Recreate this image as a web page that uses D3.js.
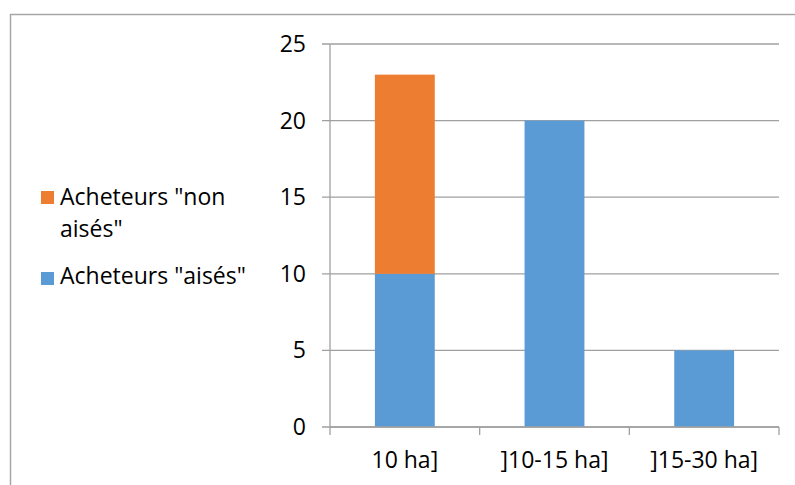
<!DOCTYPE html>
<html>
<head>
<meta charset="utf-8">
<script src="https://cdn.jsdelivr.net/npm/d3@7"></script>
<style>
  html, body { margin: 0; padding: 0; background: #fff; }
  svg { display: block; }
  text { font-family: "Open Sans", Lato, sans-serif; fill: #000; }
</style>
</head>
<body>
<svg id="chart" width="795" height="485"></svg>
<script>
const categories = ["10 ha]", "]10-15 ha]", "]15-30 ha]"];
const seriesNames = ['Acheteurs "aisés"', 'Acheteurs "non aisés"'];
const aises = [10, 20, 5];
const nonAises = [13, 0, 0];
const yTicks = [0, 5, 10, 15, 20, 25];
const colors = ["#5B9BD5", "#ED7D31"];

(function () {
const svg = d3.select("#chart");
const W = 795, H = 485;
const FS = 23;

// outer chart border
svg.append("rect")
  .attr("x", 10.5).attr("y", 14.5)
  .attr("width", W).attr("height", H)
  .attr("fill", "#fff").attr("stroke", "#a6a6a6").attr("stroke-width", 1.5);

const pLeft = 330, pRight = 779, pTop = 44, pBottom = 427;

const x = d3.scaleBand().domain(categories).range([pLeft, pRight])
  .paddingInner(0.6).paddingOuter(0.3);
const y = d3.scaleLinear().domain([0, 25]).range([pBottom, pTop]);

// gridlines
svg.append("g").selectAll("line").data(yTicks).join("line")
  .attr("x1", pLeft - 8).attr("x2", pRight)
  .attr("y1", d => y(d)).attr("y2", d => y(d))
  .attr("stroke", "#a0a0a0").attr("stroke-width", 1.3);

// y axis line
svg.append("line")
  .attr("x1", pLeft).attr("x2", pLeft).attr("y1", pTop).attr("y2", pBottom)
  .attr("stroke", "#a0a0a0").attr("stroke-width", 1.3);

// y tick labels
svg.append("g").selectAll("text").data(yTicks).join("text")
  .attr("x", 306).attr("y", d => y(d))
  .attr("dy", "0.35em")
  .attr("text-anchor", "end")
  .attr("font-size", FS)
  .text(d => d);

// stacked data
const table = categories.map((c, i) => ({ cat: c, a: aises[i], n: nonAises[i] }));
const stack = d3.stack().keys(["a", "n"]);
const layers = stack(table);

svg.append("g").selectAll("g").data(layers).join("g")
  .attr("fill", (d, i) => colors[i])
  .selectAll("rect").data(d => d.filter(s => s[1] - s[0] > 0)).join("rect")
  .attr("x", d => x(d.data.cat))
  .attr("width", x.bandwidth())
  .attr("y", d => y(d[1]))
  .attr("height", d => y(d[0]) - y(d[1]));

// x axis baseline drawn over bars
svg.append("line")
  .attr("x1", pLeft).attr("x2", pRight).attr("y1", pBottom).attr("y2", pBottom)
  .attr("stroke", "#a0a0a0").attr("stroke-width", 1.3);

// x ticks at band boundaries
const bounds = categories.map(c => x(c) - x.step() * x.paddingOuter()).concat([pRight]);
svg.append("g").selectAll("line").data(bounds).join("line")
  .attr("x1", d => d).attr("x2", d => d)
  .attr("y1", pBottom).attr("y2", pBottom + 8)
  .attr("stroke", "#a0a0a0").attr("stroke-width", 1.3);

// x labels
svg.append("g").selectAll("text").data(categories).join("text")
  .attr("x", d => x(d) + x.bandwidth() / 2)
  .attr("y", 468)
  .attr("text-anchor", "middle")
  .attr("font-size", FS)
  .text(d => d);

// legend
const legend = svg.append("g");
legend.append("rect").attr("x", 41).attr("y", 191).attr("width", 13).attr("height", 13).attr("fill", colors[1]);
const lt = legend.append("text").attr("font-size", FS);
lt.append("tspan").attr("x", 60).attr("y", 205).text('Acheteurs "non');
lt.append("tspan").attr("x", 60).attr("y", 237).text('aisés"');
legend.append("rect").attr("x", 41).attr("y", 272).attr("width", 13).attr("height", 13).attr("fill", colors[0]);
legend.append("text").attr("font-size", FS).attr("x", 60).attr("y", 284).text(seriesNames[0]);
})();
</script>
</body>
</html>
